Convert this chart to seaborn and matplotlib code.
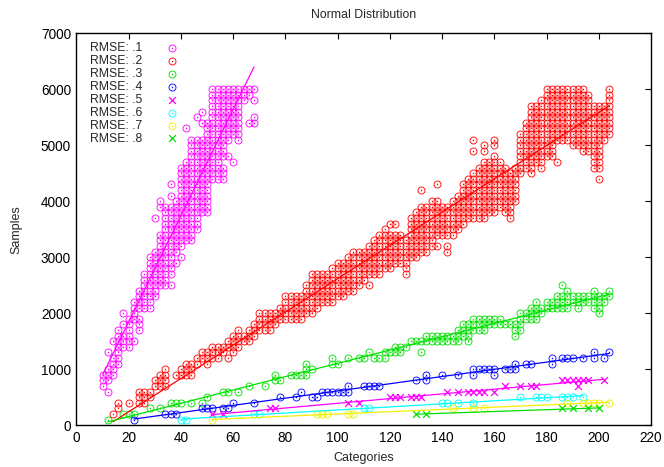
import matplotlib
matplotlib.use("Agg")
import matplotlib.pyplot as plt
import numpy as np
import pandas as pd
import seaborn as sns

# dense clouds: one entry per x column, y values given as ranges in hundreds
RMSE1_X = list(range(10, 70, 2))
RMSE1_Y = ["7-9", "6 8-10 13", "9-12 15", "11-17", "14-16 18 20", "14-19", "15 19-22",
           "17-19 21-24", "21-27", "21-30", "23-31 37", "25-34 39-40", "25-39",
           "25 27-39 41 43", "29 31-40", "30 32-46", "33-47 53", "33-51", "35-51 55",
           "38-51 54 56", "38-54", "44-60", "44-60", "44-46 48-60", "48 51-60",
           "47 52-60", "51-60", "58-60", "54 59-60", "54-55 58 60"]

RMSE2_X = [14, 16, 20, 24, 26, 28, 30, 32, 34, 38, 40, 42, 44, 46, 48, 50, 52, 54, 56, 58,
           60, 62, 64, 66, 68, 70, 72, 74, 76, 78, 80, 82, 84, 86, 88, 90, 92, 94, 96, 98,
           100, 102, 104, 106, 108, 110, 112, 114, 116, 118, 120, 122, 124, 126, 128, 130,
           132, 134, 136, 138, 140, 142, 144, 146, 148, 150, 152, 154, 156, 158, 160, 162,
           164, 166, 168, 170, 172, 174, 176, 178, 180, 182, 184, 186, 188, 190, 192, 194,
           196, 198, 200, 202, 204]
RMSE2_Y = ["2", "3-4", "4", "4-6", "4-6", "5-6", "7-8", "7-9", "7-10", "9", "9-10", "9-11",
           "9-11", "11-12", "12-13", "11-13", "12-14", "12-14", "13-14", "12 14-15",
           "13-16", "14-17", "15-16", "15-17", "16-18", "17-20", "17-20", "17-20", "18-20",
           "19-21", "19-23", "19-23", "19-23", "19-23", "20-25", "20-27", "21-27", "22-27",
           "22-27", "22-28", "23-29", "23-29", "24-30", "24-31", "25-31", "26-31",
           "25 27-32", "27-33", "27-34", "28-35", "28-34 36", "29-34 36", "29-34", "27-33",
           "30-37", "30-38", "31-39 42", "31-39", "32-40", "32 34-40 43", "34-39",
           "31-32 34-39", "34-40", "35-41", "36-43", "37-44", "37-45 49 51", "37-46",
           "37-47 49-50", "38-47", "38-48 50-51", "39-47", "38-46", "37-45", "40-46",
           "45-52", "46-54", "45-57", "47-57", "46-58", "48-60", "48-60", "47 51-60",
           "51-60", "51-60", "50-60", "50-60", "49-60", "49-59", "46-57", "44 46-57",
           "51-57", "52-60"]

RMSE3_X = [12, 18, 20, 22, 28, 32, 36, 38, 40, 44, 48, 50, 56, 58, 62, 66, 72, 76, 76, 78,
           82, 84, 86, 88, 88, 88, 90, 98, 98, 100, 104, 108, 110, 112, 114, 116, 118, 118,
           120, 122, 122, 124, 124, 126, 128, 130, 132, 132, 134, 134, 136, 136, 138, 138,
           140, 140, 142, 142, 144, 144, 146, 146, 146, 148, 148, 148, 150, 150, 150, 150,
           152, 152, 152, 154, 154, 154, 156, 156, 156, 158, 158, 160, 160, 162, 162, 164,
           166, 168, 168, 168, 170, 170, 170, 170, 172, 172, 174, 174, 174, 176, 176, 176,
           176, 178, 178, 180, 180, 182, 182, 184, 184, 184, 186, 186, 186, 186, 188, 188,
           188, 188, 190, 190, 192, 192, 192, 194, 194, 196, 196, 198, 198, 198, 198, 200,
           200, 200, 200, 202, 202, 204, 204]
RMSE3_Y = [100, 200, 200, 200, 300, 300, 400, 400, 400, 400, 400, 500, 600, 600, 600, 700,
           700, 800, 900, 800, 900, 900, 900, 900, 1000, 1100, 1000, 1100, 1200, 1100, 1200,
           1200, 1200, 1300, 1200, 1200, 1200, 1300, 1300, 1300, 1400, 1300, 1400, 1400,
           1500, 1500, 1300, 1500, 1500, 1600, 1500, 1600, 1500, 1600, 1500, 1600, 1500,
           1600, 1500, 1600, 1500, 1600, 1700, 1600, 1700, 1800, 1500, 1600, 1700, 1800,
           1700, 1800, 1900, 1700, 1800, 1900, 1700, 1800, 1900, 1800, 1900, 1800, 1900,
           1800, 1900, 1800, 1800, 1600, 1700, 1800, 1700, 1800, 1900, 2000, 1900, 2000,
           1900, 2000, 2100, 1900, 2000, 2100, 2200, 2000, 2100, 2100, 2200, 2100, 2200,
           2100, 2200, 2300, 2100, 2200, 2300, 2500, 2100, 2200, 2300, 2400, 2200, 2300,
           2100, 2200, 2300, 2200, 2300, 2200, 2300, 2100, 2200, 2300, 2400, 2000, 2100,
           2200, 2300, 2200, 2300, 2300, 2400]

RMSE4_X = [22, 34, 36, 38, 48, 50, 52, 56, 58, 60, 68, 78, 84, 86, 90, 92, 94, 96, 98, 100,
           102, 104, 104, 110, 112, 114, 116, 130, 134, 134, 140, 146, 152, 152, 154, 156,
           158, 160, 160, 164, 166, 168, 168, 172, 174, 182, 182, 186, 188, 190, 194, 198,
           198, 202, 204]
RMSE4_Y = [100, 200, 200, 200, 300, 300, 300, 300, 300, 400, 400, 500, 500, 600, 500, 500,
           600, 600, 600, 600, 600, 600, 700, 700, 700, 700, 700, 800, 800, 900, 900, 900,
           900, 1000, 1000, 1000, 1000, 900, 1000, 1000, 1000, 1000, 1100, 1100, 1100, 1100,
           1200, 1200, 1200, 1200, 1200, 1200, 1300, 1200, 1300]

RMSE5_X = [52, 56, 74, 76, 104, 108, 120, 122, 124, 128, 130, 132, 142, 146, 150, 152, 154,
           156, 160, 164, 170, 174, 176, 186, 188, 190, 192, 192, 194, 196, 202]
RMSE5_Y = [200, 200, 300, 300, 400, 400, 500, 500, 500, 500, 500, 500, 600, 600, 600, 600,
           600, 600, 600, 700, 700, 700, 700, 800, 800, 800, 700, 800, 800, 800, 800]

RMSE6_X = [40, 42, 68, 70, 110, 112, 140, 142, 146, 152, 170, 176, 178, 180, 186, 188, 190, 194]
RMSE6_Y = [100, 100, 200, 200, 300, 300, 400, 400, 400, 400, 500, 500, 500, 500, 500, 500,
           500, 500]

RMSE7_X = [52, 92, 94, 96, 104, 106, 144, 152, 156, 188, 194, 196, 198, 200, 204]
RMSE7_Y = [100, 200, 200, 200, 200, 200, 300, 300, 300, 400, 400, 400, 400, 400, 400]

RMSE8_X = [130, 134, 186, 190, 196, 200]
RMSE8_Y = [200, 200, 300, 300, 300, 300]

LABELS = ["RMSE: .1", "RMSE: .2", "RMSE: .3", "RMSE: .4",
          "RMSE: .5", "RMSE: .6", "RMSE: .7", "RMSE: .8"]
COLORS = ["#ff00ff", "#ff0000", "#00e000", "#0000ff",
          "#ff00ff", "#00ffff", "#f0f000", "#00e000"]
MARKERS = ["o", "o", "o", "o", "x", "o", "o", "x"]


def expand(xs, spans):
    px, py = [], []
    for x, s in zip(xs, spans):
        for part in s.split():
            lo, _, hi = part.partition("-")
            for h in range(int(lo), int(hi or lo) + 1):
                px.append(x)
                py.append(h * 100)
    return px, py


x1, y1 = expand(RMSE1_X, RMSE1_Y)
x2, y2 = expand(RMSE2_X, RMSE2_Y)
series = [(x1, y1), (x2, y2), (RMSE3_X, RMSE3_Y), (RMSE4_X, RMSE4_Y),
          (RMSE5_X, RMSE5_Y), (RMSE6_X, RMSE6_Y), (RMSE7_X, RMSE7_Y), (RMSE8_X, RMSE8_Y)]

sns.set_theme(style="white")
plt.rcParams["font.family"] = ["Liberation Sans", "DejaVu Sans"]

fig = plt.figure(figsize=(6.64, 4.67), dpi=100)
ax = fig.add_axes([0.1152, 0.0893, 0.8652, 0.8394])

for (xs, ys), lab, col, mk in zip(series, LABELS, COLORS, MARKERS):
    if mk == "o":
        sns.scatterplot(x=xs, y=ys, ax=ax, marker=r"$\odot$", s=32, color=col,
                        linewidth=0, label=lab)
    else:
        sns.scatterplot(x=xs, y=ys, ax=ax, marker="x", s=24, color=col,
                        linewidth=0.9, label=lab)
    sns.regplot(x=np.array(xs, float), y=np.array(ys, float), ax=ax, scatter=False,
                ci=None, truncate=True, color=col, line_kws={"lw": 0.9})

ax.set_xlim(0, 220)
ax.set_ylim(0, 7000)
ax.set_xticks(range(0, 221, 20))
ax.set_yticks(range(0, 7001, 1000))
ax.tick_params(direction="in", top=True, right=True, length=4, width=0.8,
               labelsize=9.8, colors="black", pad=4)
for sp in ax.spines.values():
    sp.set_color("black")
    sp.set_linewidth(1.0)
ax.set_xlabel("Categories", fontsize=9, labelpad=5)
ax.set_ylabel("Samples", fontsize=9, labelpad=13)
ax.set_title("Normal Distribution", fontsize=8.8, pad=11)

ax.legend(loc="upper left", bbox_to_anchor=(0.008, 1.0), frameon=False,
          markerfirst=False, fontsize=8.8, labelspacing=0.08, handletextpad=2.05,
          handlelength=0.8, borderpad=0.2)

fig.savefig("out.png", dpi=100)
